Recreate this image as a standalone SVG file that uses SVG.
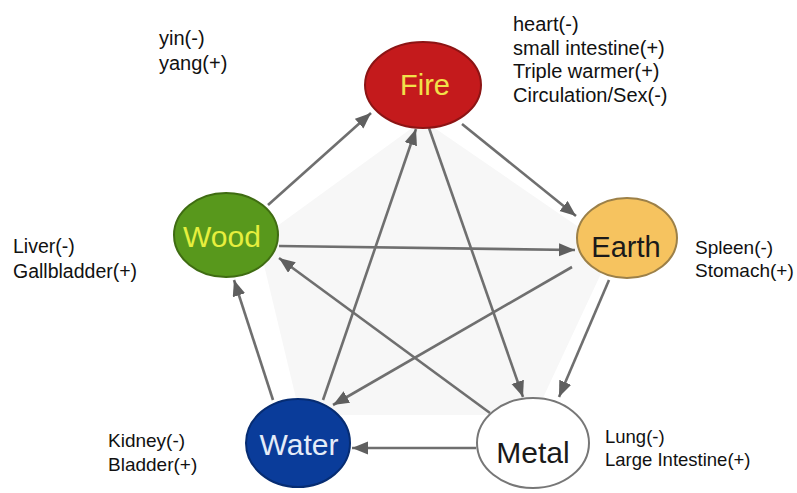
<svg xmlns="http://www.w3.org/2000/svg" width="797" height="493" viewBox="0 0 797 493">
  <style>
    .lbl { font-family: "Liberation Sans", Arial, sans-serif; fill: #111111; }
    .node { font-family: "Liberation Sans", Arial, sans-serif; text-anchor: middle; }
    .edge { stroke: #6f6f6f; stroke-width: 2.6; fill: none; marker-end: url(#arrow); }
  </style>
  <defs>
    <marker id="arrow" markerUnits="userSpaceOnUse" markerWidth="18" markerHeight="14" refX="16" refY="6.5" orient="auto">
      <path d="M0,0 L16,6.5 L0,13 z" fill="#5f5f5f"/>
    </marker>
  </defs>
  <rect width="797" height="493" fill="#ffffff"/>
  <polygon points="258,240 423,120 612,250 535,415 300,415" fill="#f7f7f7"/>

  <g id="connectors">
    <line class="edge" x1="268" y1="205" x2="371" y2="113"/>
    <line class="edge" x1="462" y1="124" x2="576" y2="216"/>
    <line class="edge" x1="609" y1="280" x2="559" y2="397"/>
    <line class="edge" x1="476" y1="448" x2="352" y2="448"/>
    <line class="edge" x1="273" y1="400" x2="234" y2="280"/>
    <line class="edge" x1="279" y1="246" x2="575" y2="250"/>
    <line class="edge" x1="572" y1="267" x2="333" y2="405"/>
    <line class="edge" x1="323" y1="400" x2="416" y2="129"/>
    <line class="edge" x1="429" y1="128" x2="523" y2="397"/>
    <line class="edge" x1="490" y1="413" x2="279" y2="258"/>
  </g>

  <g id="fire">
    <ellipse cx="423" cy="85" rx="58" ry="43" fill="#c41a1c" stroke="#8c1414" stroke-width="2"/>
    <text class="node" x="425" y="95" font-size="29" fill="#f2e14a">Fire</text>
  </g>
  <g id="wood">
    <ellipse cx="226" cy="235" rx="52" ry="42" fill="#58981c" stroke="#3f6c12" stroke-width="2"/>
    <text class="node" x="222" y="247" font-size="30" fill="#e6ef3e">Wood</text>
  </g>
  <g id="earth">
    <ellipse cx="627" cy="238" rx="50" ry="40" fill="#f6c35f" stroke="#9c8048" stroke-width="2"/>
    <text class="node" x="626" y="257" font-size="29" fill="#1a1a1a">Earth</text>
  </g>
  <g id="water">
    <ellipse cx="298" cy="443" rx="52" ry="44" fill="#0a3c9a" stroke="#062c72" stroke-width="2"/>
    <text class="node" x="299" y="455" font-size="30" fill="#e4ecf8">Water</text>
  </g>
  <g id="metal">
    <ellipse cx="533" cy="443" rx="56" ry="45" fill="#ffffff" stroke="#777777" stroke-width="2"/>
    <text class="node" x="533" y="463" font-size="30" fill="#1a1a1a">Metal</text>
  </g>

  <g id="labels">
    <text class="lbl" x="159" y="45" font-size="20">yin(-)</text>
    <text class="lbl" x="159" y="70" font-size="20">yang(+)</text>

    <text class="lbl" x="513" y="31" font-size="20">heart(-)</text>
    <text class="lbl" x="513" y="55" font-size="20">small intestine(+)</text>
    <text class="lbl" x="513" y="78" font-size="20">Triple warmer(+)</text>
    <text class="lbl" x="513" y="102" font-size="20">Circulation/Sex(-)</text>

    <text class="lbl" x="13" y="253" font-size="19.5">Liver(-)</text>
    <text class="lbl" x="13" y="278" font-size="19.5">Gallbladder(+)</text>

    <text class="lbl" x="695" y="254" font-size="19">Spleen(-)</text>
    <text class="lbl" x="695" y="277" font-size="19">Stomach(+)</text>

    <text class="lbl" x="605" y="443" font-size="18.5">Lung(-)</text>
    <text class="lbl" x="605" y="466" font-size="18.5">Large Intestine(+)</text>

    <text class="lbl" x="108" y="447" font-size="19">Kidney(-)</text>
    <text class="lbl" x="108" y="471" font-size="19">Bladder(+)</text>
  </g>
</svg>
